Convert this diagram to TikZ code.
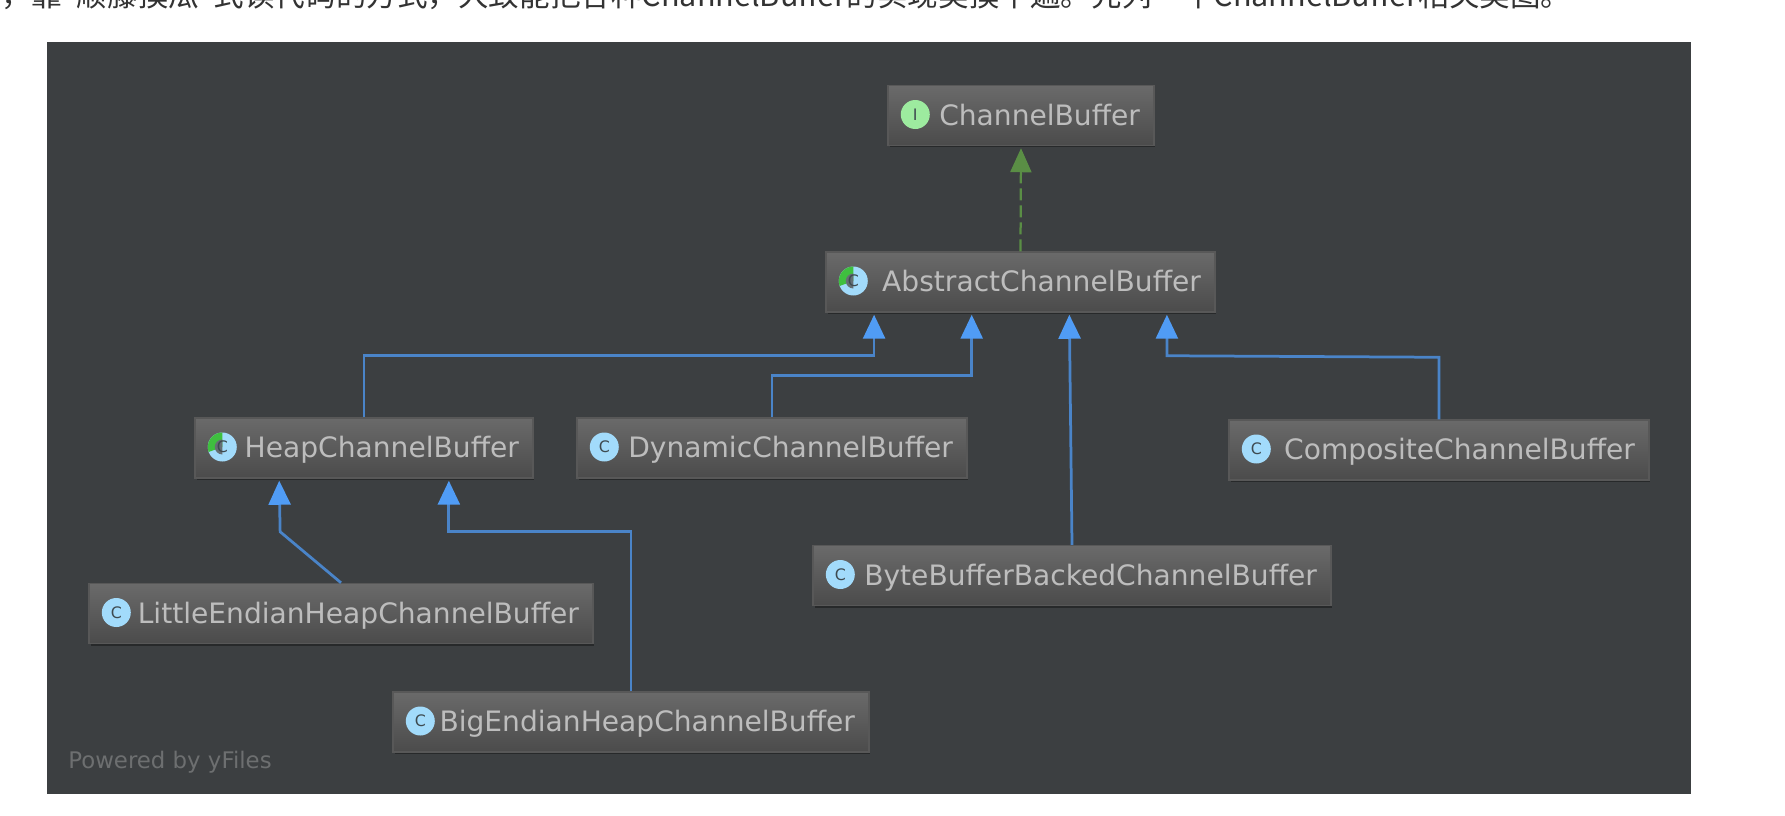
\documentclass[tikz,border=0pt]{standalone}
\usepackage{fontspec}
\setmainfont{DejaVu Sans}
\newfontfamily\cjk{Noto Sans CJK SC}
\usepackage{xcolor}
\usetikzlibrary{calc}
\usetikzlibrary{arrows.meta}
\usetikzlibrary{shadows}

\definecolor{panelbg}{HTML}{3C3F41}
\definecolor{boxtop}{HTML}{6A6A6A}
\definecolor{boxbot}{HTML}{4B4B4B}
\definecolor{boxline}{HTML}{585858}
\definecolor{labelfg}{HTML}{BDBDBD}
\definecolor{linkblue}{HTML}{4A84C8}
\definecolor{tipblue}{HTML}{509CF5}
\definecolor{linkgreen}{HTML}{5A8E45}
\definecolor{iconblue}{HTML}{A2DBFB}
\definecolor{icongreen}{HTML}{9DEB9F}
\definecolor{wedgegreen}{HTML}{3FBF3F}
\definecolor{icondark}{HTML}{3E4A50}

\tikzset{
  classbox/.style={draw=boxline, line width=0.03cm, top color=boxtop, bottom color=boxbot,
    drop shadow={shadow xshift=0.03cm, shadow yshift=-0.04cm, fill=black, opacity=0.35},
    minimum width=#1cm, minimum height=1.2cm, inner xsep=0.28cm, inner ysep=0pt,
    text width=#1cm-0.56cm, text height=0.38cm, text depth=0cm, align=right,
    text=labelfg, font=\fontsize{16}{20}\selectfont},
  classicon/.style={circle, fill=iconblue, minimum size=0.58cm, inner sep=0pt,
    text=icondark, font=\fontsize{9}{11}\selectfont},
  faceicon/.style={classicon, fill=icongreen},
  halficon/.style={classicon, path picture={
    \fill[wedgegreen] (path picture bounding box.center) -- ++(90:0.32cm)
      arc[start angle=90, end angle=200, radius=0.32cm] -- cycle;
    \fill[icondark!80] (path picture bounding box.center) -- ++(90:0.15cm)
      arc[start angle=90, end angle=270, radius=0.15cm] -- cycle;}},
  extendline/.style={draw=linkblue, line width=0.055cm, shorten >=0.04cm,
    -{Triangle[length=0.48cm, width=0.44cm, color=tipblue]}},
  implementline/.style={draw=linkgreen, line width=0.045cm, shorten >=0.04cm,
    dash pattern=on 0.24cm off 0.1cm,
    -{Triangle[length=0.48cm, width=0.42cm, color=linkgreen]}}
}

\begin{document}
\begin{tikzpicture}[x=0.02cm, y=-0.02cm]
\useasboundingbox (0,0) rectangle (1785,815);

% Text Above
\node[anchor=base west, inner sep=0pt, text=black!80, font=\fontsize{17.4}{20}\cjk] (note) at (1,6)
  {，靠"顺藤摸瓜"式读代码的方式，大致能把各种ChannelBuffer的实现类摸个遍。先列一个ChannelBuffer相关类图。};

% Panel
\fill[panelbg] (47,42) rectangle (1691,794);

% Classes
\node[classbox=5.32] (channel) at (1021,115.5) {ChannelBuffer};
\node[classbox=7.78] (abstract) at (1020.5,282) {AbstractChannelBuffer};
\node[classbox=6.76] (heap) at (364,448) {HeapChannelBuffer};
\node[classbox=7.80] (dynamic) at (772,448) {DynamicChannelBuffer};
\node[classbox=8.40] (composite) at (1439,450) {CompositeChannelBuffer};
\node[classbox=10.36] (bytebacked) at (1072,575.5) {ByteBufferBackedChannelBuffer};
\node[classbox=10.08] (little) at (341,613.5) {LittleEndianHeapChannelBuffer};
\node[classbox=9.52] (big) at (631,722) {BigEndianHeapChannelBuffer};

% Icons
\node[faceicon] (channelicon) at ($(channel.west)+(28,-1)$) {I};
\node[halficon] (abstracticon) at ($(abstract.west)+(28,-1)$) {C};
\node[halficon] (heapicon) at ($(heap.west)+(28,-1)$) {C};
\node[classicon] (dynamicicon) at ($(dynamic.west)+(28,-1)$) {C};
\node[classicon] (compositeicon) at ($(composite.west)+(28,-1)$) {C};
\node[classicon] (bytebackedicon) at ($(bytebacked.west)+(28,-1)$) {C};
\node[classicon] (littleicon) at ($(little.west)+(28,-1)$) {C};
\node[classicon] (bigicon) at ($(big.west)+(28,-1)$) {C};

% Ports
\coordinate (abstractA) at ($(abstract.south west)!0.125!(abstract.south east)$);
\coordinate (abstractB) at ($(abstract.south west)!0.375!(abstract.south east)$);
\coordinate (abstractC) at ($(abstract.south west)!0.625!(abstract.south east)$);
\coordinate (abstractD) at ($(abstract.south west)!0.875!(abstract.south east)$);
\coordinate (heapA) at ($(heap.south west)!0.25!(heap.south east)$);
\coordinate (heapB) at ($(heap.south west)!0.75!(heap.south east)$);

% Links
\draw[implementline] (abstract.north) -- (channel.south);
\draw[extendline] (heap.north) -- ++(0,-62) -| (abstractA);
\draw[extendline] (dynamic.north) -- ++(0,-42) -| (abstractB);
\draw[extendline] (bytebacked.north) -- (abstractC);
\draw[extendline] (composite.north) -- ++(0,-62) -- ($(abstractD)+(0,43)$) -- (abstractD);
\draw[extendline] (little.north) -- ($(heapA)+(1,53)$) -- (heapA);
\draw[extendline] (big.north) |- ($(heapB)+(0,53)$) -- (heapB);

% Watermark
\node[anchor=west, inner sep=0pt, text=white!25!panelbg, font=\fontsize{13}{15}\selectfont] (powered) at (68,762) {Powered by yFiles};
\end{tikzpicture}
\end{document}
